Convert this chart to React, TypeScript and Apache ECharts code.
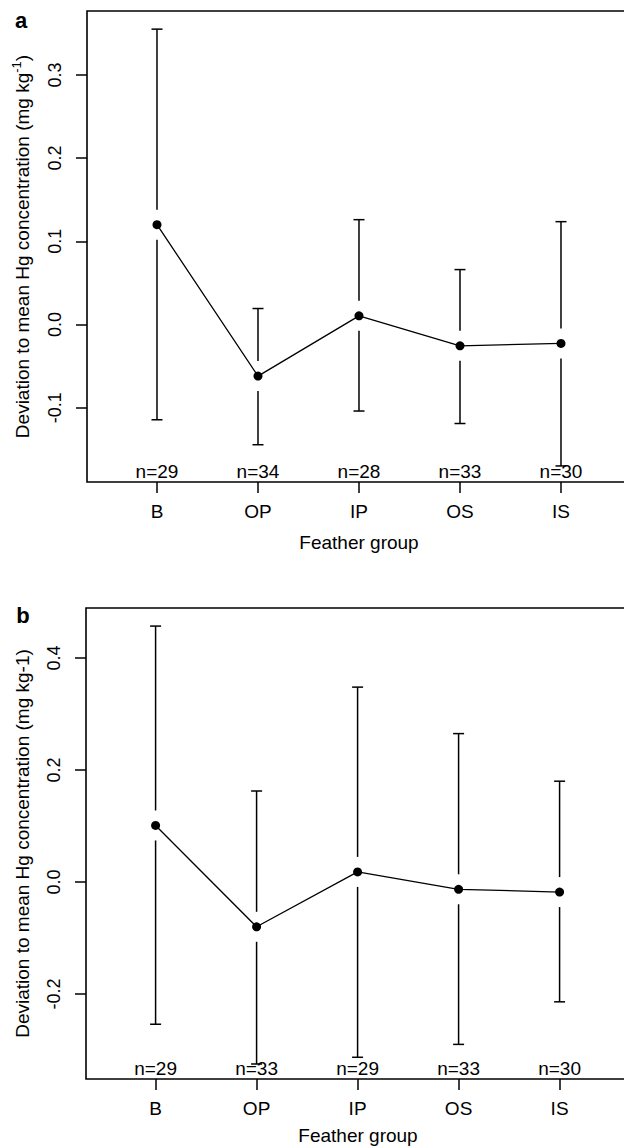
import React, { useEffect, useRef } from "react";
import * as echarts from "echarts";

const categories = ["B", "OP", "IP", "OS", "IS"];

// Panel a
const meanA = [0.12, -0.062, 0.0104, -0.0256, -0.0228];
const upperA = [0.355, 0.0192, 0.126, 0.066, 0.1236];
const lowerA = [-0.1145, -0.1445, -0.104, -0.119, -0.17];
const nA = [29, 34, 28, 33, 30];
const ticksA = [-0.1, 0, 0.1, 0.2, 0.3];

// Panel b
const meanB = [0.101, -0.08, 0.018, -0.013, -0.018];
const upperB = [0.457, 0.1625, 0.348, 0.265, 0.18];
const lowerB = [-0.254, -0.325, -0.313, -0.29, -0.214];
const nB = [29, 33, 29, 33, 30];
const ticksB = [-0.2, 0, 0.2, 0.4];

const FONT = '"Liberation Sans", Arial, sans-serif';

export default function App() {
  const ref = useRef<HTMLDivElement>(null);
  useEffect(() => {
    if (!ref.current) return;
    const chart = echarts.init(ref.current, undefined, { renderer: "svg" });

    const panels = [
      { mean: meanA, upper: upperA, lower: lowerA, n: nA, ticks: ticksA, top: 11, left: 87, ymin: -0.1893, ymax: 0.3768, xmin: 0.307 },
      { mean: meanB, upper: upperB, lower: lowerB, n: nB, ticks: ticksB, top: 608, left: 86, ymin: -0.3518, ymax: 0.4893, xmin: 0.311 },
    ];
    const H = 471;
    const W = 560;
    const span = W / 101;

    const grids: any[] = [];
    const xAxes: any[] = [];
    const yAxes: any[] = [];
    const series: any[] = [];

    panels.forEach((p, gi) => {
      grids.push({ left: p.left, top: p.top, width: W, height: H, show: true, borderColor: "#000", borderWidth: 1.6, backgroundColor: "transparent" });
      xAxes.push({
        type: "value", gridIndex: gi, min: p.xmin, max: p.xmin + span,
        axisLine: { show: false, onZero: false },
        splitLine: { show: false },
        axisTick: { show: true, inside: false, length: 11, customValues: [1, 2, 3, 4, 5], lineStyle: { color: "#000", width: 1.5 } },
        axisLabel: { customValues: [1, 2, 3, 4, 5], formatter: (v: number) => categories[Math.round(v) - 1] ?? "", color: "#000", fontSize: 19, fontFamily: FONT, margin: 20 },
      });
      yAxes.push({
        type: "value", gridIndex: gi, min: p.ymin, max: p.ymax,
        axisLine: { show: false, onZero: false },
        splitLine: { show: false },
        axisTick: { show: true, inside: false, length: 11, customValues: p.ticks, lineStyle: { color: "#000", width: 1.5 } },
        axisLabel: { customValues: p.ticks, rotate: 90, formatter: (v: number) => v.toFixed(1), color: "#000", fontSize: 18, fontFamily: FONT, margin: 23 },
      });
      const eb = p.mean.map((m, i) => [i + 1, m, p.lower[i], p.upper[i], p.n[i]]);
      series.push({
        type: "custom", xAxisIndex: gi, yAxisIndex: gi, clip: false, z: 2,
        data: eb,
        renderItem: (params: any, api: any) => {
          const x = api.value(0), m = api.value(1), lo = api.value(2), hi = api.value(3), n = api.value(4);
          const pm = api.coord([x, m]);
          const ph = api.coord([x, hi]);
          const pl = api.coord([x, lo]);
          const pb = api.coord([x, p.ymin]);
          const gap = 15, cw = 5.5;
          const st = { stroke: "#000", lineWidth: 1.5 };
          const children: any[] = [];
          if (ph[1] < pm[1] - gap) {
            children.push({ type: "line", shape: { x1: pm[0], y1: pm[1] - gap, x2: ph[0], y2: ph[1] }, style: st });
          }
          children.push({ type: "line", shape: { x1: ph[0] - cw, y1: ph[1], x2: ph[0] + cw, y2: ph[1] }, style: st });
          if (pl[1] > pm[1] + gap) {
            children.push({ type: "line", shape: { x1: pm[0], y1: pm[1] + gap, x2: pl[0], y2: pl[1] }, style: st });
          }
          children.push({ type: "line", shape: { x1: pl[0] - cw, y1: pl[1], x2: pl[0] + cw, y2: pl[1] }, style: st });
          children.push({ type: "text", x: pb[0], y: pb[1] - 11, style: { text: "n=" + n, align: "center", verticalAlign: "middle", font: `19px ${FONT}`, fill: "#000" } });
          return { type: "group", children };
        },
      });
      series.push({
        type: "line", xAxisIndex: gi, yAxisIndex: gi, z: 3,
        data: p.mean.map((m, i) => [i + 1, m]),
        symbol: "circle", symbolSize: 9, showSymbol: true,
        itemStyle: { color: "#000" },
        lineStyle: { color: "#000", width: 1.3 },
      });
    });

    const mid = (top: number) => top + H / 2;

    chart.setOption({
      animation: false,
      backgroundColor: "#fff",
      grid: grids,
      xAxis: xAxes,
      yAxis: yAxes,
      series,
      graphic: [
        { type: "text", x: 21, y: 20, style: { text: "a", font: `bold 22px ${FONT}`, fill: "#000", align: "center", verticalAlign: "middle" } },
        { type: "text", x: 23, y: 615, style: { text: "b", font: `bold 22px ${FONT}`, fill: "#000", align: "center", verticalAlign: "middle" } },
        {
          type: "text", x: 22, y: mid(11), rotation: Math.PI / 2,
          style: {
            text: "{m|Deviation to mean Hg concentration (mg kg}{s|-1}{m|)}",
            align: "center", verticalAlign: "middle", fill: "#000",
            rich: {
              m: { fontSize: 19, fontFamily: FONT, lineHeight: 24, fill: "#000" },
              s: { fontSize: 13, fontFamily: FONT, lineHeight: 13, verticalAlign: "top", fill: "#000" },
            },
          },
        },
        {
          type: "text", x: 22, y: mid(608), rotation: Math.PI / 2,
          style: { text: "Deviation to mean Hg concentration (mg kg-1)", font: `19px ${FONT}`, fill: "#000", align: "center", verticalAlign: "middle" },
        },
        { type: "text", x: 359, y: 542, style: { text: "Feather group", font: `19px ${FONT}`, fill: "#000", align: "center", verticalAlign: "middle" } },
        { type: "text", x: 358, y: 1135, style: { text: "Feather group", font: `19px ${FONT}`, fill: "#000", align: "center", verticalAlign: "middle" } },
      ],
    });
    return () => chart.dispose();
  }, []);
  return (
    <div style={{ position: "fixed", left: 0, top: 0, width: 624, height: 1147, overflow: "hidden", background: "#fff" }}>
      <div ref={ref} style={{ width: 680, height: 1147 }} />
    </div>
  );
}
